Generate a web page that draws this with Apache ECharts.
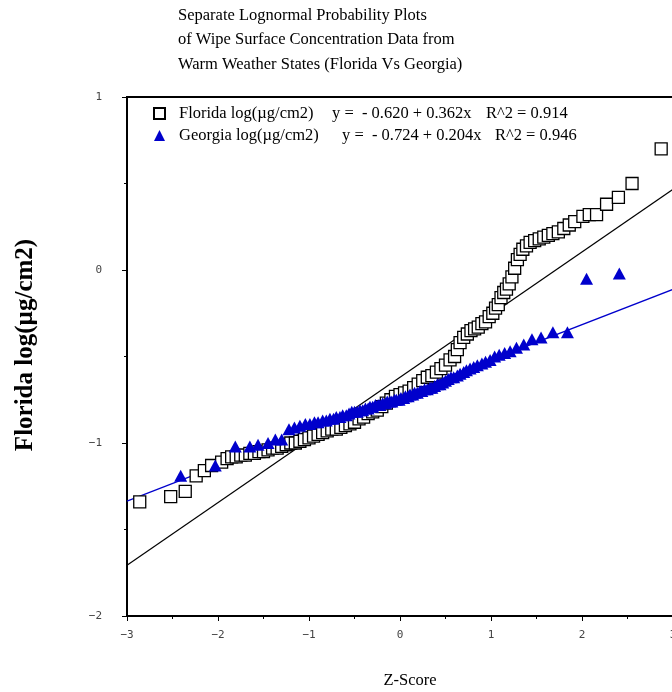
<!DOCTYPE html>
<html>
<head>
<meta charset="utf-8">
<script src="https://cdn.jsdelivr.net/npm/echarts@6/dist/echarts.min.js"></script>
<style>
  html, body { margin: 0; padding: 0; background: #fff; }
  #chart { width: 672px; height: 692px; }
</style>
</head>
<body>
<div id="chart"></div>
<script>
// Florida: z-score vs log(µg/cm2)
const flZ = [-2.86, -2.52, -2.36, -2.24, -2.15, -2.07, -1.96,
  -1.90, -1.85, -1.80, -1.75, -1.70, -1.65, -1.60, -1.55, -1.50, -1.45,
  -1.40, -1.35, -1.30, -1.25, -1.20, -1.15, -1.10, -1.05, -1.00, -0.95,
  -0.90, -0.85, -0.80, -0.75, -0.70, -0.65, -0.60, -0.55, -0.50, -0.45,
  -0.40, -0.35, -0.30, -0.25, -0.20, -0.15, -0.10, -0.05, 0.00, 0.05,
  0.10, 0.15, 0.20, 0.25, 0.30, 0.35, 0.40, 0.45, 0.50, 0.55, 0.60,
  0.63, 0.66, 0.70, 0.74, 0.78, 0.82, 0.86, 0.90, 0.94, 0.98,
  1.02, 1.05, 1.08, 1.11, 1.14, 1.17, 1.20, 1.23, 1.26, 1.29, 1.32, 1.35,
  1.39, 1.43, 1.48, 1.53, 1.58, 1.63, 1.68, 1.74, 1.80, 1.86, 1.92,
  2.01, 2.08, 2.16, 2.27, 2.40, 2.55, 2.87];
const flLog = [-1.34, -1.31, -1.28, -1.19, -1.16, -1.13, -1.11,
  -1.09, -1.08, -1.08, -1.07, -1.07, -1.06, -1.06, -1.05, -1.05, -1.04,
  -1.03, -1.03, -1.02, -1.01, -1.00, -1.00, -0.99, -0.98, -0.97, -0.96,
  -0.95, -0.94, -0.93, -0.92, -0.92, -0.91, -0.90, -0.89, -0.88, -0.86,
  -0.85, -0.83, -0.82, -0.81, -0.79, -0.77, -0.75, -0.73, -0.72, -0.71,
  -0.70, -0.68, -0.66, -0.64, -0.62, -0.61, -0.59, -0.57, -0.55, -0.52, -0.50,
  -0.46, -0.42, -0.39, -0.37, -0.35, -0.34, -0.33, -0.31, -0.30, -0.27,
  -0.25, -0.22, -0.20, -0.16, -0.13, -0.11, -0.08, -0.04, 0.01, 0.06, 0.09, 0.12,
  0.14, 0.16, 0.17, 0.18, 0.19, 0.20, 0.21, 0.22, 0.24, 0.26, 0.28,
  0.31, 0.32, 0.32, 0.38, 0.42, 0.50, 0.70];

// Georgia: z-score vs log(µg/cm2)
const gaZ = [-2.41, -2.03, -1.81, -1.65, -1.56, -1.45, -1.37, -1.30, -1.22, -1.16,
  -1.10, -1.04, -0.99, -0.94, -0.90, -0.85, -0.81, -0.77, -0.73, -0.70,
  -0.66, -0.63, -0.59, -0.56, -0.53, -0.50, -0.47, -0.44, -0.41, -0.38,
  -0.35, -0.33, -0.30, -0.27, -0.24, -0.22, -0.19, -0.16, -0.14, -0.11,
  -0.09, -0.06, -0.04, -0.01,
  0.01, 0.04, 0.06, 0.09, 0.11, 0.14, 0.16, 0.19, 0.22, 0.24,
  0.27, 0.30, 0.33, 0.35, 0.38, 0.41, 0.44, 0.47, 0.50, 0.53,
  0.56, 0.59, 0.63, 0.66, 0.70, 0.73, 0.77, 0.81, 0.85, 0.90,
  0.94, 0.99, 1.04, 1.09, 1.15, 1.21, 1.28, 1.36, 1.45, 1.55,
  1.68, 1.84, 2.05, 2.41];
const gaLog = [-1.19, -1.13, -1.02, -1.02, -1.01, -1.00, -0.98, -0.98, -0.92, -0.91,
  -0.90, -0.89, -0.89, -0.88, -0.88, -0.87, -0.87, -0.86, -0.86, -0.85,
  -0.85, -0.84, -0.84, -0.83, -0.82, -0.82, -0.82, -0.81, -0.81, -0.80,
  -0.80, -0.79, -0.79, -0.78, -0.78, -0.78, -0.77, -0.77, -0.76, -0.76,
  -0.76, -0.75, -0.75, -0.75,
  -0.74, -0.74, -0.73, -0.73, -0.72, -0.72, -0.71, -0.71, -0.70, -0.70,
  -0.69, -0.69, -0.68, -0.68, -0.67, -0.66, -0.66, -0.65, -0.64, -0.63,
  -0.62, -0.62, -0.61, -0.60, -0.59, -0.58, -0.57, -0.56, -0.55, -0.54,
  -0.53, -0.52, -0.50, -0.49, -0.48, -0.47, -0.45, -0.43, -0.40, -0.39,
  -0.36, -0.36, -0.05, -0.02];

// fitted lines: [intercept, slope]
const flFit = [-0.620, 0.362];
const gaFit = [-0.724, 0.204];
const zRange = [-3, 3];

const seriesNames = ['Florida log(µg/cm2)', 'Georgia log(µg/cm2)'];
const fitLabels = ['y =  - 0.620 + 0.362x', 'y =  - 0.724 + 0.204x'];
const r2Labels = ['R^2 = 0.914', 'R^2 = 0.946'];

const BLUE = '#0000cc';
const SERIF = '"Liberation Serif", "Times New Roman", serif';
const MONO = '"DejaVu Sans Mono", "Liberation Mono", monospace';
const FS = 16.5;

const pairs = (xs, ys) => xs.map((x, i) => [x, ys[i]]);
const fitLine = (fit) => zRange.map(z => [z, fit[0] + fit[1] * z]);
const minus = v => String(v).replace('-', '\u2212');

const chart = echarts.init(document.getElementById('chart'));

chart.setOption({
  animation: false,
  backgroundColor: '#fff',
  title: {
    text: 'Separate Lognormal Probability Plots\nof Wipe Surface Concentration Data from\nWarm Weather States (Florida Vs Georgia)',
    left: 178,
    top: 3,
    padding: 0,
    textStyle: {
      fontFamily: SERIF,
      fontSize: FS,
      fontWeight: 'normal',
      color: '#000',
      lineHeight: 24.5
    }
  },
  legend: {
    data: seriesNames,
    orient: 'vertical',
    left: 153,
    top: 105,
    padding: 0,
    itemGap: 5,
    itemWidth: 11,
    itemHeight: 11,
    selectedMode: false,
    formatter: function (name) {
      const i = seriesNames.indexOf(name);
      const k = i === 0 ? 'f' : 'g';
      return '{s|}{' + k + 'a|' + name + '}{' + k + 'b|' + fitLabels[i] + '}{c|' + r2Labels[i] + '}';
    },
    textStyle: {
      fontFamily: SERIF,
      fontSize: FS,
      color: '#000',
      rich: {
        s: { width: 9 },
        fa: { width: 153, fontFamily: SERIF, fontSize: FS, lineHeight: 18 },
        fb: { width: 154, fontFamily: SERIF, fontSize: FS, lineHeight: 18 },
        ga: { width: 163, fontFamily: SERIF, fontSize: FS, lineHeight: 18 },
        gb: { width: 153, fontFamily: SERIF, fontSize: FS, lineHeight: 18 },
        c: { fontFamily: SERIF, fontSize: FS, lineHeight: 18 }
      }
    }
  },
  grid: {
    left: 127,
    top: 97,
    width: 546,
    height: 519,
    outerBoundsMode: 'none',
    containLabel: false,
    show: true,
    borderColor: '#000',
    borderWidth: 2,
    backgroundColor: 'transparent'
  },
  xAxis: {
    type: 'value',
    min: -3,
    max: 3,
    interval: 1,
    axisLine: { onZero: false, lineStyle: { color: '#000', width: 2 } },
    axisTick: { length: 5, lineStyle: { color: '#000', width: 1 } },
    minorTick: { show: true, splitNumber: 2, length: 3, lineStyle: { color: '#000', width: 1 } },
    splitLine: { show: false },
    axisLabel: {
      margin: 14,
      fontFamily: MONO,
      fontSize: 11,
      color: '#444',
      formatter: minus
    }
  },
  yAxis: {
    type: 'value',
    min: -2,
    max: 1,
    interval: 1,
    axisLine: { onZero: false, lineStyle: { color: '#000', width: 2 } },
    axisTick: { length: 5, lineStyle: { color: '#000', width: 1 } },
    minorTick: { show: true, splitNumber: 2, length: 3, lineStyle: { color: '#000', width: 1 } },
    splitLine: { show: false },
    axisLabel: {
      margin: 25,
      fontFamily: MONO,
      fontSize: 11,
      color: '#444',
      formatter: minus
    }
  },
  graphic: [
    {
      type: 'text',
      x: 26,
      y: 345,
      rotation: Math.PI / 2,
      style: {
        text: 'Florida log(µg/cm2)',
        font: 'bold 25px ' + SERIF,
        fill: '#000',
        align: 'center',
        verticalAlign: 'middle'
      }
    },
    {
      type: 'text',
      x: 410,
      y: 681,
      style: {
        text: 'Z-Score',
        font: FS + 'px ' + SERIF,
        fill: '#000',
        align: 'center',
        verticalAlign: 'middle'
      }
    }
  ],
  series: [
    {
      name: 'Florida fit',
      type: 'line',
      data: fitLine(flFit),
      showSymbol: false,
      lineStyle: { color: '#000', width: 1.2 },
      silent: true,
      z: 1
    },
    {
      name: 'Georgia fit',
      type: 'line',
      data: fitLine(gaFit),
      showSymbol: false,
      lineStyle: { color: BLUE, width: 1.2 },
      silent: true,
      z: 1
    },
    {
      name: seriesNames[0],
      type: 'scatter',
      data: pairs(flZ, flLog),
      symbol: 'rect',
      symbolSize: 12,
      itemStyle: { color: '#fff', borderColor: '#000', borderWidth: 1.3, opacity: 1 },
      z: 2
    },
    {
      name: seriesNames[1],
      type: 'scatter',
      data: pairs(gaZ, gaLog),
      symbol: 'triangle',
      symbolSize: [13, 12],
      itemStyle: { color: BLUE, opacity: 1 },
      z: 3
    }
  ]
});
</script>
</body>
</html>
